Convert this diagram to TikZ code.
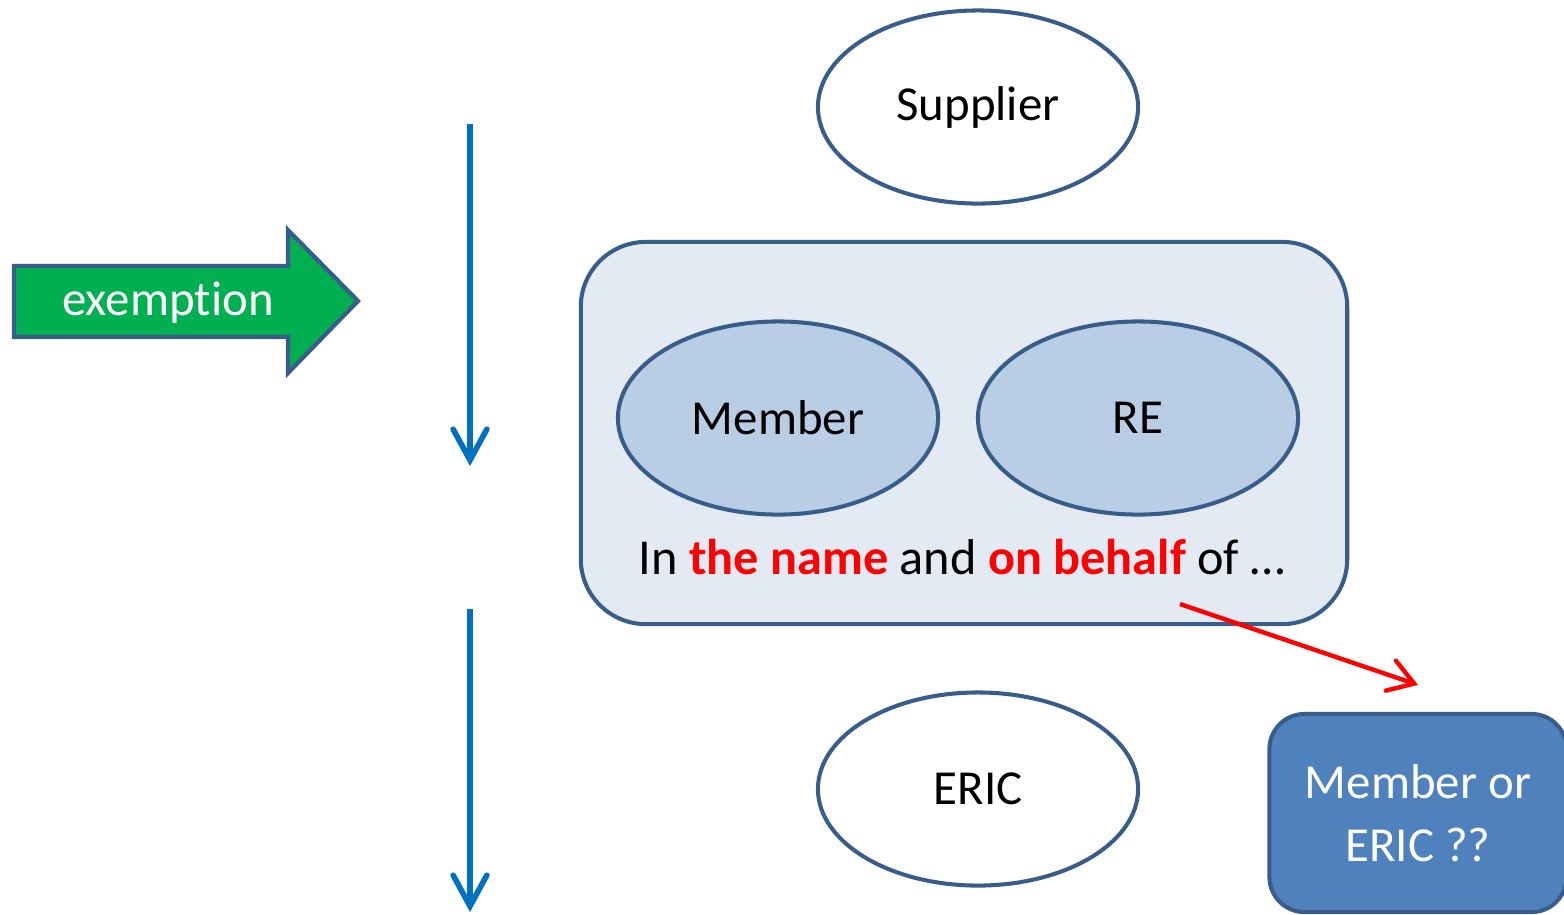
\documentclass[tikz,border=0pt]{standalone}
\usepackage{fontspec}
\setmainfont{Carlito}[Ligatures=NoCommon,RawFeature={-liga;-clig;-calt}]
\usetikzlibrary{shapes.geometric,arrows.meta}

\definecolor{edgeblue}{RGB}{56,93,138}
\definecolor{panelfill}{RGB}{227,234,244}
\definecolor{partyfill}{RGB}{185,205,229}
\definecolor{askfill}{RGB}{79,129,189}
\definecolor{flowblue}{RGB}{0,112,192}
\definecolor{exgreen}{RGB}{0,176,80}

\begin{document}
\begin{tikzpicture}[x=0.01cm,y=-0.01cm,
    font=\fontsize{13.9}{17}\selectfont,
    party/.style={ellipse,draw=edgeblue,line width=1.15pt,inner sep=0pt,
      minimum width=3.2cm,minimum height=1.93cm},
    flow/.style={draw=flowblue,line width=1.6pt,
      -{Straight Barb[length=8.8pt,width=9.6pt,line cap=round]}}]
  \useasboundingbox (0,0) rectangle (1564,914);

  % the outer parties
  \node[party,fill=white] (supplier) at (978,107) {Supplier};
  \node[party,fill=white] (eric) at (978,789) {ERIC};

  % the panel with the two members acting for someone
  \node[draw=edgeblue,fill=panelfill,line width=1.15pt,rounded corners=0.65cm,
    minimum width=7.66cm,minimum height=3.82cm] (panel) at (964,433) {};
  \node[party,fill=partyfill] (member) at (778,418) {Member};
  \node[party,fill=partyfill] (re) at (1138,418) {RE};
  \node[font=\fontsize{14.3}{17}\selectfont] (behalf) at (962,557)
    {In \textbf{\color{red}the name} and \textbf{\color{red}on behalf} of \dots};

  % who is it then?
  \node[draw=edgeblue,fill=askfill,line width=1.15pt,rounded corners=0.35cm,
    minimum width=2.97cm,minimum height=1.98cm,text=white,align=center]
    (ask) at (1418,813) {Member or\\[1pt]ERIC ??};

  \coordinate (redstart) at (1180,604);
  \draw[red,line width=1.25pt,
    -{Straight Barb[length=7pt,width=9pt,line cap=round]}]
    (redstart) -- ([yshift=0.27cm]ask.north);

  % time line down the left
  \coordinate (topA) at (470,124);
  \coordinate (topB) at (470,466);
  \coordinate (botA) at (470,609);
  \coordinate (botB) at (470,912);
  \draw[flow] (topA) -- (topB);
  \draw[flow] (botA) -- (botB);

  % green block arrow
  \draw[draw=edgeblue,fill=exgreen,line width=1.2pt,line join=miter]
    (14,266) -- (288,266) -- (288,230) -- (358,301) -- (288,373)
    -- (288,337) -- (14,337) -- cycle;
  \node[text=white] (exempt) at (168,303) {exemption};
\end{tikzpicture}
\end{document}
